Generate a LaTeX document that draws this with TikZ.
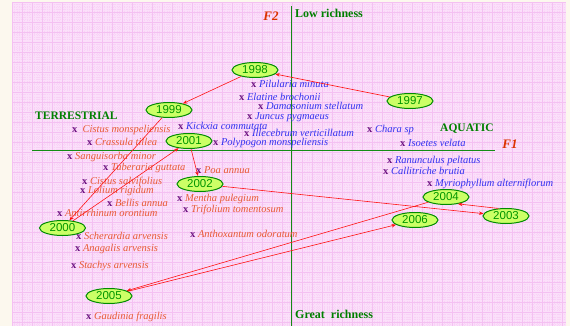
\documentclass[tikz,border=0pt]{standalone}
\usepackage{fontspec}
\setmainfont{Liberation Serif}
\newfontfamily\yearfont{Liberation Sans}
\usetikzlibrary{shapes.geometric,arrows.meta}
\definecolor{cream}{RGB}{252,248,238}
\definecolor{pinkbg}{RGB}{251,223,250}
\definecolor{gridmaj}{RGB}{244,192,242}
\definecolor{gridmin}{RGB}{248,210,246}
\definecolor{xcol}{RGB}{110,20,130}
\definecolor{tcol}{RGB}{232,90,52}
\definecolor{acol}{RGB}{50,50,240}
\definecolor{gcol}{RGB}{0,128,0}
\definecolor{axcol}{RGB}{20,140,20}
\definecolor{yfill}{RGB}{204,255,102}
\definecolor{yline}{RGB}{0,140,0}
\definecolor{ytext}{RGB}{0,150,0}
\definecolor{arrred}{RGB}{255,20,20}
\definecolor{fred}{RGB}{220,50,0}
\newcommand{\xm}{{\upshape\bfseries\color{xcol}x}\ }
\begin{document}
\begin{tikzpicture}[x=1pt,y=-1pt,
  year/.style={ellipse,draw=yline,line width=1pt,fill=yfill,text=ytext,
    minimum width=46pt,minimum height=15pt,inner sep=0pt,
    font=\yearfont\fontsize{11.5}{12}\selectfont},
  spc/.style={anchor=base west,inner sep=0pt,
    font=\fontsize{10.5}{12}\selectfont\itshape},
  terr/.style={spc,text=tcol},
  aqua/.style={spc,text=acol},
  glabel/.style={anchor=base west,inner sep=0pt,text=gcol,
    font=\fontsize{12}{14}\selectfont\bfseries},
  flabel/.style={inner sep=0pt,text=fred,
    font=\fontsize{13}{14}\selectfont\bfseries\itshape},
  arr/.style={draw=arrred,line width=0.6pt,-{Stealth[length=4.5pt,width=3.5pt]}},
  axisline/.style={draw=axcol,line width=1pt}]
\useasboundingbox (0,0) rectangle (570,326);
\fill[cream] (0,0) rectangle (570,326);
\fill[pinkbg] (12,2) rectangle (566,326);
\foreach \i in {0,...,220} {\draw[gridmin,line width=0.2pt,dotted] ({12+2.5*\i},2) -- ({12+2.5*\i},326);}
\foreach \j in {0,...,129} {\draw[gridmin,line width=0.2pt,dotted] (12,{2+2.5*\j}) -- (566,{2+2.5*\j});}
\foreach \i in {0,...,55} {\draw[gridmaj,line width=0.45pt] ({12+10*\i},2) -- ({12+10*\i},326);}
\foreach \j in {0,...,32} {\draw[gridmaj,line width=0.45pt] (12,{2+10*\j}) -- (566,{2+10*\j});}
% axes
\coordinate (vtop) at (291,6);
\coordinate (vbot) at (291,326);
\coordinate (hl) at (32,150);
\coordinate (hr) at (495,150);
\draw[axisline] (vtop) -- (vbot);
\draw[axisline] (hl) -- (hr);
% axis labels
\node[flabel] (f2) at (271,16) {F2};
\node[flabel] (f1) at (510,144) {F1};
\node[glabel] (low) at (295,17.5) {Low richness};
\node[glabel] (great) at (295,318) {Great\ \ richness};
\node[glabel,font=\fontsize{11.5}{14}\selectfont\bfseries] (terrl) at (35,119.5) {TERRESTRIAL};
\node[glabel,font=\fontsize{11.5}{14}\selectfont\bfseries] (aqual) at (440,131.5) {AQUATIC};
% species: terrestrial
\node[terr] (t1) at (72,132.5) {\xm\ Cistus monspeliensis};
\node[terr] (t2) at (87,145.5) {\xm Crassula tillea};
\node[terr] (t3) at (67,159.5) {\xm Sanguisorba minor};
\node[terr] (t4) at (103,170.5) {\xm Tuberaria guttata};
\node[terr] (t5) at (82,184.5) {\xm Cistus salvifolius};
\node[terr] (t6) at (80,193.5) {\xm Lolium rigidum};
\node[terr] (t7) at (107,206.5) {\xm Bellis annua};
\node[terr] (t8) at (57,216.5) {\xm Antirrhinum orontium};
\node[terr] (t9) at (196,173.5) {\xm Poa annua};
\node[terr] (t10) at (177,201.5) {\xm Mentha pulegium};
\node[terr] (t11) at (183,212.5) {\xm Trifolium tomentosum};
\node[terr] (t12) at (76,239.5) {\xm Scherardia arvensis};
\node[terr] (t13) at (75,251.5) {\xm Anagalis arvensis};
\node[terr] (t14) at (71,268.5) {\xm Stachys arvensis};
\node[terr] (t15) at (190,237.5) {\xm Anthoxantum odoratum};
\node[terr] (t16) at (86,319.5) {\xm Gaudinia fragilis};
% species: aquatic
\node[aqua] (a1) at (178,129.5) {\xm Kickxia commutata};
\node[aqua] (a2) at (213,145.5) {\xm Polypogon monspeliensis};
\node[aqua] (a3) at (251,87.5) {\xm Pilularia minuta};
\node[aqua] (a4) at (239,100.5) {\xm Elatine brochonii};
\node[aqua] (a5) at (258,109.5) {\xm Damasonium stellatum};
\node[aqua] (a6) at (247,119.5) {\xm Juncus pygmaeus};
\node[aqua] (a7) at (244,136.5) {\xm Illecebrum verticillatum};
\node[aqua] (a8) at (367,132.5) {\xm Chara sp};
\node[aqua] (a9) at (400,146.5) {\xm Isoetes velata};
\node[aqua] (a10) at (387,163.5) {\xm Ranunculus peltatus};
\node[aqua] (a11) at (383,174.5) {\xm Callitriche brutia};
\node[aqua] (a12) at (427,186.5) {\xm Myriophyllum alterniflorum};
% years
\node[year] (y1997) at (410,101) {1997};
\node[year] (y1998) at (255,70) {1998};
\node[year] (y1999) at (169,110) {1999};
\node[year] (y2000) at (62.5,228) {2000};
\node[year] (y2001) at (189,141) {2001};
\node[year] (y2002) at (200,184) {2002};
\node[year] (y2003) at (506,216) {2003};
\node[year] (y2004) at (446,197) {2004};
\node[year] (y2005) at (109,296) {2005};
\node[year] (y2006) at (415,220) {2006};
% trajectory
\draw[arr] (y1997) -- (y1998);
\draw[arr] (y1998) -- (y1999);
\draw[arr] (y1999) -- (y2000);
\draw[arr] (y2000) -- (y2001);
\draw[arr] (y2001) -- (y2002);
\draw[arr] (y2002) -- (y2003);
\draw[arr] (y2003.135) -- (y2004.-30);
\draw[arr] (y2004) -- (y2005);
\draw[arr] (y2005) -- (y2006);
\end{tikzpicture}
\end{document}
